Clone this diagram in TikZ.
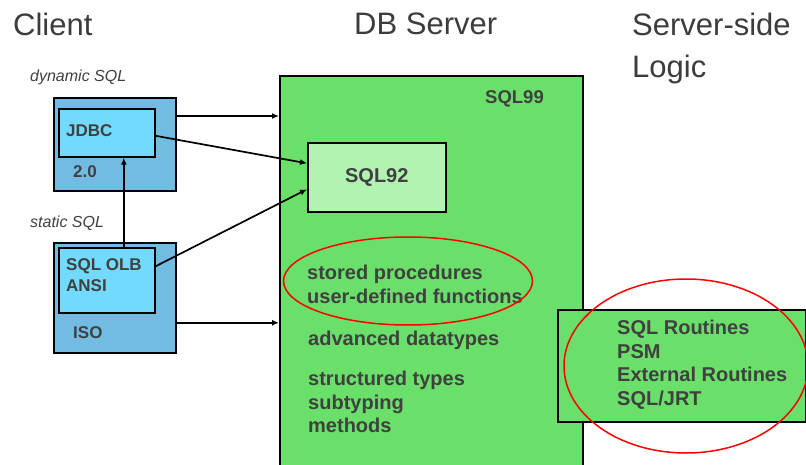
\documentclass[tikz,border=0pt]{standalone}
\usepackage{fontspec}
\setmainfont{Liberation Sans}
\usetikzlibrary{arrows.meta,positioning}

\definecolor{textgray}{HTML}{404040}
\definecolor{titlegray}{HTML}{3C3C3C}
\definecolor{dbgreen}{HTML}{6ADF6A}
\definecolor{sqlgreen}{HTML}{B2F3B2}
\definecolor{clientblue}{HTML}{72BCE4}
\definecolor{clientcyan}{HTML}{72DAFF}

\begin{document}
\begin{tikzpicture}[
        x=1pt, y=-1pt,
        box/.style={draw, line width=1.6pt, anchor=north west, inner sep=0pt},
        outerbox/.style={box, fill=clientblue},
        innerbox/.style={box, fill=clientcyan},
        title/.style={anchor=north west, inner sep=0pt, align=left, text=titlegray,
            font=\fontsize{31}{42}\selectfont},
        note/.style={anchor=base west, inner sep=0pt, text=textgray,
            font=\itshape\fontsize{16}{19}\selectfont},
        tag/.style={inner sep=0pt, align=left, text=textgray,
            font=\bfseries\fontsize{17}{21}\selectfont},
        feature/.style={anchor=north west, inner sep=0pt, align=left, text=textgray,
            font=\bfseries\fontsize{20}{23.7}\selectfont},
        arrow/.style={-{Latex[length=7pt,width=6pt]}, line width=1.7pt},
        circled/.style={draw=red, line width=1.5pt}
    ]
        \useasboundingbox (0,0) rectangle (806,465);

        % Column titles
        \node[title] (client-title) at (13,13) {Client};
        \node[title] (server-title) at (354,13) {DB Server};
        \node[title] (logic-title) at (632,13) {Server-side\\Logic};

        % DB server with its standards
        \node[box, fill=dbgreen, minimum width=303pt, minimum height=400pt] (db) at (279,75) {};
        \node[box, fill=sqlgreen, minimum width=138pt, minimum height=69pt,
            font=\bfseries\fontsize{20}{24}\selectfont, text=textgray] (sql92) at (307,142) {SQL92};
        \node[box, fill=dbgreen, minimum width=248pt, minimum height=112pt] (routines) at (557,309) {};

        % Client side
        \node[outerbox, minimum width=122pt, minimum height=93pt] (jdbc-box) at (53,97) {};
        \node[innerbox, minimum width=96pt, minimum height=48pt] (jdbc) at (58,108) {};
        \node[outerbox, minimum width=122pt, minimum height=110pt] (olb-box) at (53,242) {};
        \node[innerbox, minimum width=96pt, minimum height=65pt] (olb) at (58,247) {};

        % Connections to the server
        \draw[arrow] ([yshift=-19pt]jdbc-box.north east) coordinate (jdbc-out) -- (jdbc-out -| db.west);
        \draw[arrow] ([yshift=-3pt]jdbc.east) -- ([yshift=14pt]sql92.west);
        \draw[arrow] ([yshift=14pt]olb.east) -- ([yshift=-12pt]sql92.west);
        \draw[arrow] ([yshift=-25pt]olb-box.east) coordinate (olb-out) -- (olb-out -| db.west);
        \draw[arrow] ([xshift=17pt]olb.north) -- ([xshift=17pt]jdbc.south);

        % Labels
        \node[note] (dynamic) at (30,82) {dynamic SQL};
        \node[note] (static) at (30,228) {static SQL};
        \node[tag, anchor=base west] (jdbc-txt) at (66,137) {JDBC};
        \node[tag, anchor=base west] (jdbc-ver) at (73,178) {2.0};
        \node[tag, anchor=north west] (olb-txt) at (66,258) {SQL OLB\\ANSI};
        \node[tag, anchor=base west] (olb-iso) at (73,338) {ISO};
        \node[tag, anchor=base west, font=\bfseries\fontsize{18.5}{22}\selectfont] (sql99) at (485,104) {SQL99};

        \node[feature] (procs) at (307,264.7) {stored procedures\\user-defined functions};
        \node[feature] (types) at (308,330.7) {advanced datatypes};
        \node[feature] (structs) at (308,370.7) {structured types\\subtyping\\methods};
        \node[feature] (routine-list) at (617,319.7) {SQL Routines\\PSM\\External Routines\\SQL/JRT};

        % Highlights
        \draw[circled] (408,281) ellipse [x radius=124.5pt, y radius=44pt];
        \draw[circled] (686,366) ellipse [x radius=122pt, y radius=87pt];
    \end{tikzpicture}
\end{document}
